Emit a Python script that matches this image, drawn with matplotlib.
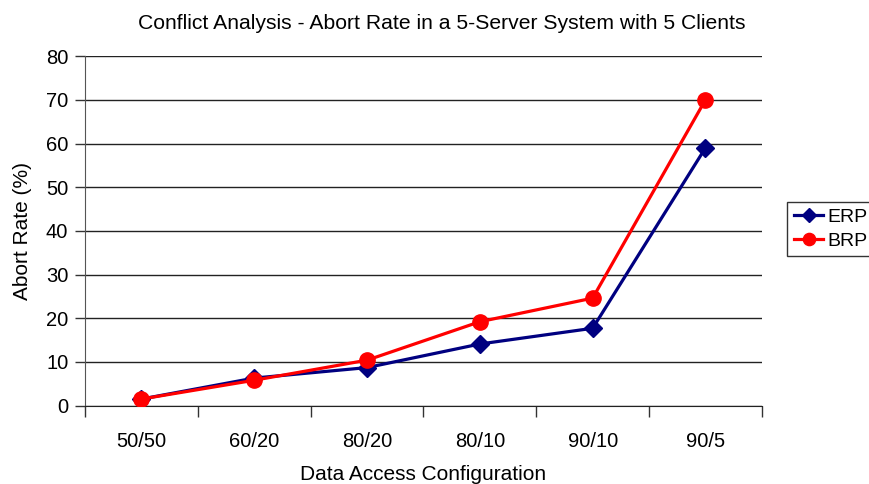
import matplotlib.pyplot as plt
import numpy as np

plt.rcParams['font.family'] = ['Liberation Sans', 'DejaVu Sans']

configs = ['50/50', '60/20', '80/20', '80/10', '90/10', '90/5']
erp = [1.5, 6.3, 8.7, 14.1, 17.7, 59.0]
brp = [1.5, 5.8, 10.4, 19.2, 24.6, 70.0]

x = np.arange(len(configs))

fig = plt.figure(figsize=(8.7, 4.84), dpi=100)
ax = fig.add_axes([0.0977, 0.162, 0.778, 0.722])

ax.plot(x, erp, color='#000080', lw=2.3, marker='D', ms=9, label='ERP', zorder=3)
ax.plot(x, brp, color='#ff0000', lw=2.3, marker='o', ms=11, label='BRP', zorder=4)

ax.set_xlim(-0.5, len(configs) - 0.5)
ax.set_ylim(0, 80)
ax.set_yticks(np.arange(0, 81, 10))
ax.set_xticks(x)
ax.set_xticklabels(configs)
ax.set_xticks(np.arange(-0.5, len(configs), 1), minor=True)
ax.tick_params(axis='x', which='major', length=0, pad=19, labelsize=14.5)
ax.tick_params(axis='x', which='minor', length=8, width=1, color='#333333')
ax.tick_params(axis='y', length=7, width=1, color='#333333', labelsize=14.5, pad=5)

ax.grid(axis='y', color='#222222', lw=1)
ax.set_axisbelow(True)
for s in ['top', 'right']:
    ax.spines[s].set_visible(False)
ax.spines['left'].set_color('#555555')
ax.spines['bottom'].set_color('#222222')

fig.text(0.508, 0.951, 'Conflict Analysis - Abort Rate in a 5-Server System with 5 Clients',
         fontsize=15.2, ha='center', va='center')
ax.set_xlabel('Data Access Configuration', fontsize=15, labelpad=10)
ax.set_ylabel('Abort Rate (%)', fontsize=15, labelpad=10)

leg = fig.legend(loc='upper left', bbox_to_anchor=(0.905, 0.583), fontsize=14,
                 frameon=True, fancybox=False, edgecolor='black',
                 handlelength=1.5, handletextpad=0.2, borderpad=0.35,
                 labelspacing=0.3, borderaxespad=0, markerscale=0.8)
leg.get_frame().set_linewidth(1)

fig.savefig('out.png', dpi=100)
